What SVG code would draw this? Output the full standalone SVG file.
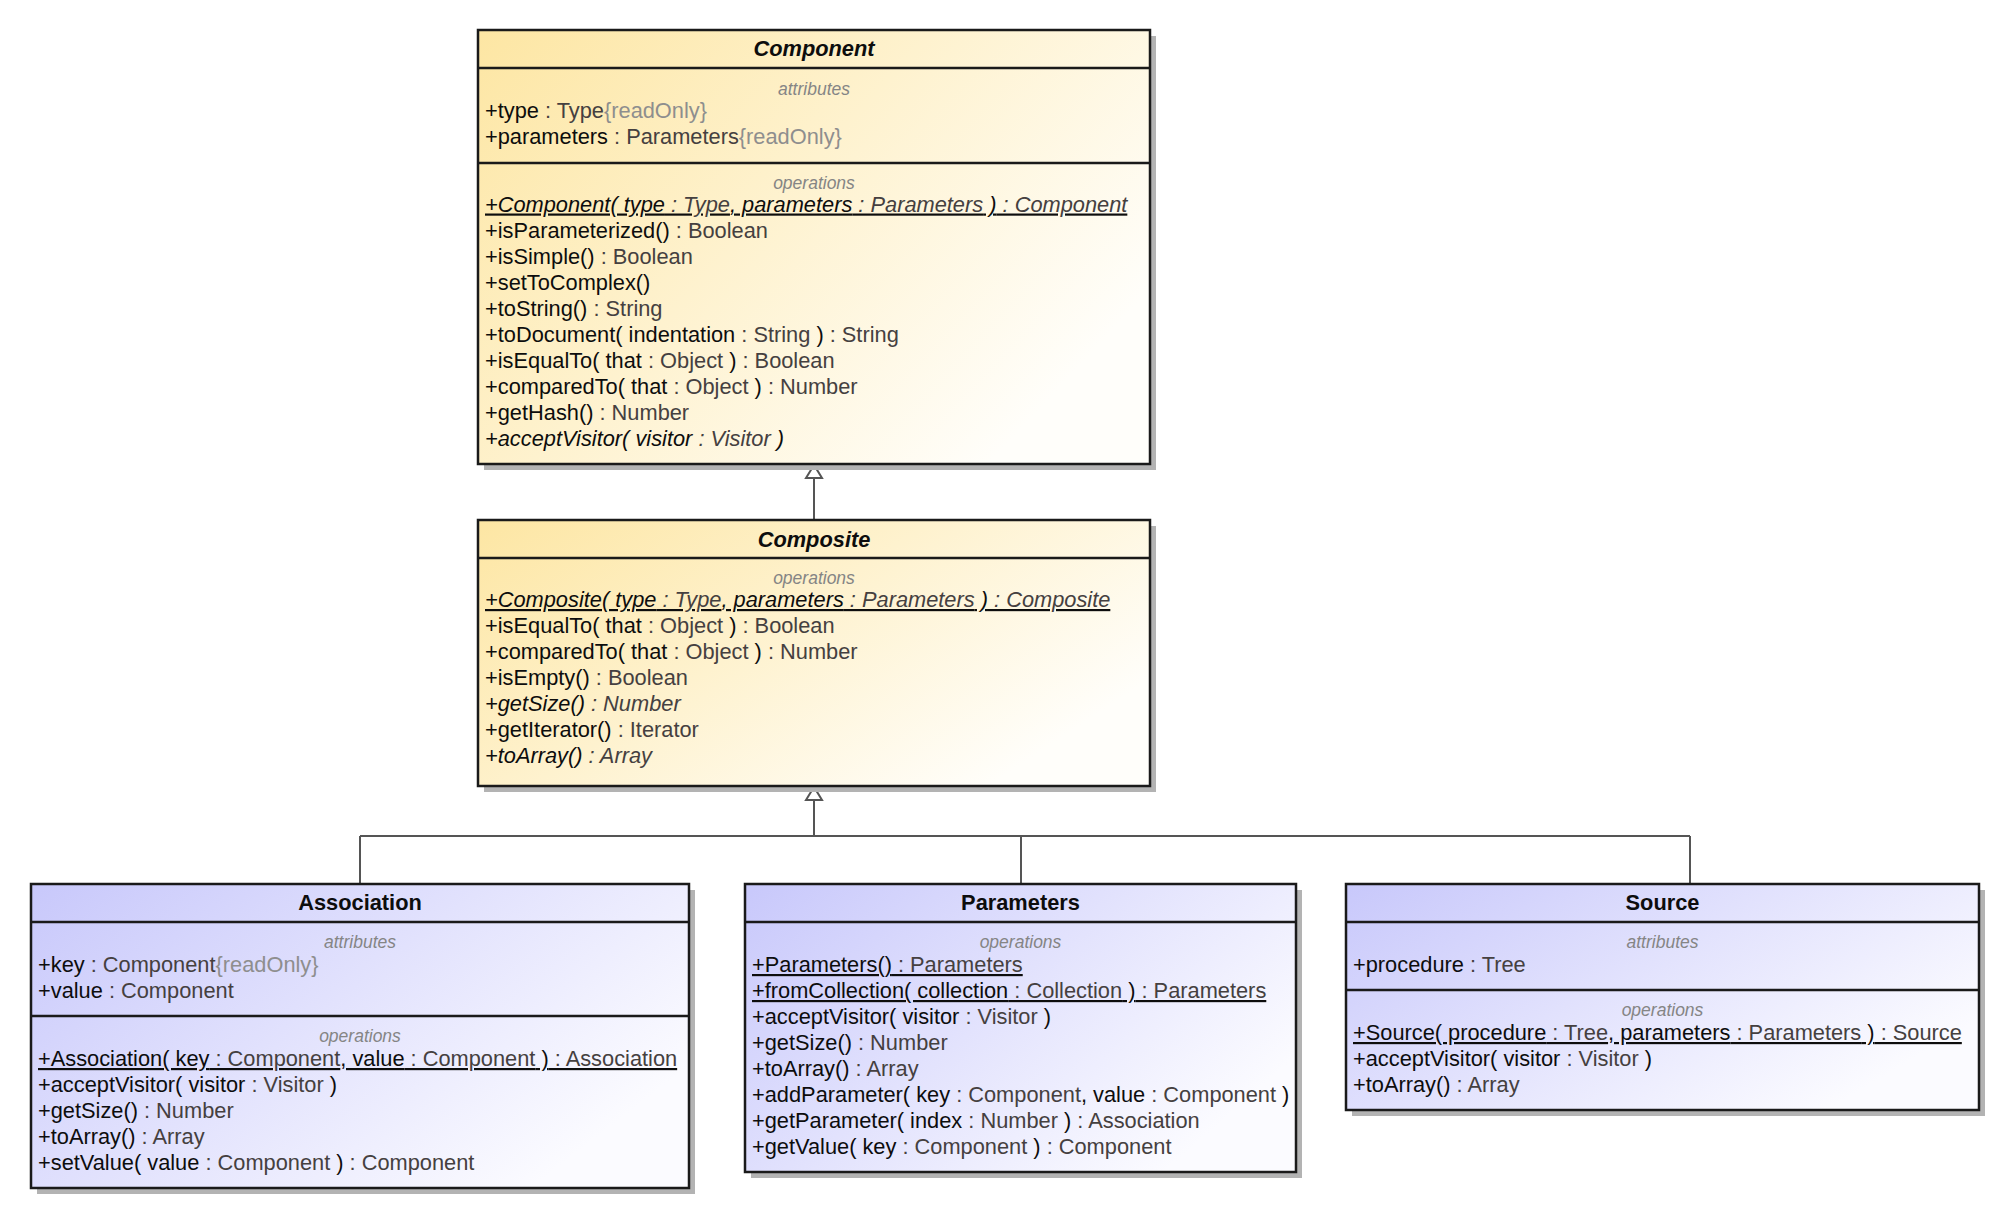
<svg xmlns="http://www.w3.org/2000/svg" width="2008" height="1218" viewBox="0 0 2008 1218">
<defs>
<linearGradient id="gy" x1="0" y1="0" x2="1" y2="0.6">
<stop offset="0" stop-color="#fde6a3"/>
<stop offset="1" stop-color="#fffefa"/>
</linearGradient>
<linearGradient id="gb" x1="0" y1="0" x2="1" y2="0.6">
<stop offset="0" stop-color="#c8c8fb"/>
<stop offset="1" stop-color="#fbfbff"/>
</linearGradient>
<style>
.sh{fill:#b3b3b3}
.by{fill:url(#gy);stroke:#1a1a1a;stroke-width:2.5}
.bb{fill:url(#gb);stroke:#1a1a1a;stroke-width:2.5}
.dv{stroke:#1a1a1a;stroke-width:2.5}
text{font-family:"Liberation Sans",Arial,Helvetica,sans-serif;font-size:21.8px;fill:#0d0d0d}
.ti{font-weight:bold;text-anchor:middle}
.it{font-style:italic}
.lb{font-size:17.5px;font-style:italic;fill:#858585;text-anchor:middle}
.ty{fill:#454040}
.ro{fill:#8e8e8e}
.u{text-decoration:underline}
.cn{stroke:#555;stroke-width:2;fill:none}
.ah{fill:#fff;stroke:#555;stroke-width:2}
</style>
</defs>

<g id="connectors">
<path class="cn" d="M814 478V520"/>
<polygon class="ah" points="814,465 806,478 822,478"/>
<path class="cn" d="M814 800V836M360 836H1690M360 836V884M1021 836V884M1690 836V884"/>
<polygon class="ah" points="814,787 806,800 822,800"/>
</g>

<g id="Component">
<rect class="sh" x="484" y="36" width="672" height="434"/>
<rect class="by" x="478" y="30" width="672" height="434"/>
<line class="dv" x1="478" y1="68" x2="1150" y2="68"/>
<line class="dv" x1="478" y1="163" x2="1150" y2="163"/>
<text class="ti it" x="814" y="55.5">Component</text>
<text class="lb" x="814" y="94.5">attributes</text>
<text x="485" y="118">+type<tspan class="ty"> : Type</tspan><tspan class="ro">{readOnly}</tspan></text>
<text x="485" y="144">+parameters<tspan class="ty"> : Parameters</tspan><tspan class="ro">{readOnly}</tspan></text>
<text class="lb" x="814" y="188.5">operations</text>
<text class="it u" x="485" y="211.5">+Component( type<tspan class="ty"> : Type</tspan>, parameters<tspan class="ty"> : Parameters</tspan> )<tspan class="ty"> : Component</tspan></text>
<text x="485" y="237.5">+isParameterized()<tspan class="ty"> : Boolean</tspan></text>
<text x="485" y="263.5">+isSimple()<tspan class="ty"> : Boolean</tspan></text>
<text x="485" y="289.5">+setToComplex()</text>
<text x="485" y="315.5">+toString()<tspan class="ty"> : String</tspan></text>
<text x="485" y="341.5">+toDocument( indentation<tspan class="ty"> : String</tspan> )<tspan class="ty"> : String</tspan></text>
<text x="485" y="367.5">+isEqualTo( that<tspan class="ty"> : Object</tspan> )<tspan class="ty"> : Boolean</tspan></text>
<text x="485" y="393.5">+comparedTo( that<tspan class="ty"> : Object</tspan> )<tspan class="ty"> : Number</tspan></text>
<text x="485" y="419.5">+getHash()<tspan class="ty"> : Number</tspan></text>
<text class="it" x="485" y="445.5">+acceptVisitor( visitor<tspan class="ty"> : Visitor</tspan> )</text>
</g>

<g id="Composite">
<rect class="sh" x="484" y="526" width="672" height="266"/>
<rect class="by" x="478" y="520" width="672" height="266"/>
<line class="dv" x1="478" y1="558" x2="1150" y2="558"/>
<text class="ti it" x="814" y="547">Composite</text>
<text class="lb" x="814" y="584">operations</text>
<text class="it u" x="485" y="607">+Composite( type<tspan class="ty"> : Type</tspan>, parameters<tspan class="ty"> : Parameters</tspan> )<tspan class="ty"> : Composite</tspan></text>
<text x="485" y="633">+isEqualTo( that<tspan class="ty"> : Object</tspan> )<tspan class="ty"> : Boolean</tspan></text>
<text x="485" y="659">+comparedTo( that<tspan class="ty"> : Object</tspan> )<tspan class="ty"> : Number</tspan></text>
<text x="485" y="685">+isEmpty()<tspan class="ty"> : Boolean</tspan></text>
<text class="it" x="485" y="711">+getSize()<tspan class="ty"> : Number</tspan></text>
<text x="485" y="737">+getIterator()<tspan class="ty"> : Iterator</tspan></text>
<text class="it" x="485" y="763">+toArray()<tspan class="ty"> : Array</tspan></text>
</g>

<g id="Association">
<rect class="sh" x="37" y="890" width="658" height="304"/>
<rect class="bb" x="31" y="884" width="658" height="304"/>
<line class="dv" x1="31" y1="922" x2="689" y2="922"/>
<line class="dv" x1="31" y1="1016" x2="689" y2="1016"/>
<text class="ti" x="360" y="910">Association</text>
<text class="lb" x="360" y="948">attributes</text>
<text x="38" y="972">+key<tspan class="ty"> : Component</tspan><tspan class="ro">{readOnly}</tspan></text>
<text x="38" y="998">+value<tspan class="ty"> : Component</tspan></text>
<text class="lb" x="360" y="1042">operations</text>
<text class="u" x="38" y="1066">+Association( key<tspan class="ty"> : Component</tspan>, value<tspan class="ty"> : Component</tspan> )<tspan class="ty"> : Association</tspan></text>
<text x="38" y="1092">+acceptVisitor( visitor<tspan class="ty"> : Visitor</tspan> )</text>
<text x="38" y="1118">+getSize()<tspan class="ty"> : Number</tspan></text>
<text x="38" y="1144">+toArray()<tspan class="ty"> : Array</tspan></text>
<text x="38" y="1170">+setValue( value<tspan class="ty"> : Component</tspan> )<tspan class="ty"> : Component</tspan></text>
</g>

<g id="Parameters">
<rect class="sh" x="751" y="890" width="551" height="288"/>
<rect class="bb" x="745" y="884" width="551" height="288"/>
<line class="dv" x1="745" y1="922" x2="1296" y2="922"/>
<text class="ti" x="1020.5" y="910">Parameters</text>
<text class="lb" x="1020.5" y="948">operations</text>
<text class="u" x="752" y="972">+Parameters()<tspan class="ty"> : Parameters</tspan></text>
<text class="u" x="752" y="998">+fromCollection( collection<tspan class="ty"> : Collection</tspan> )<tspan class="ty"> : Parameters</tspan></text>
<text x="752" y="1024">+acceptVisitor( visitor<tspan class="ty"> : Visitor</tspan> )</text>
<text x="752" y="1050">+getSize()<tspan class="ty"> : Number</tspan></text>
<text x="752" y="1076">+toArray()<tspan class="ty"> : Array</tspan></text>
<text x="752" y="1102">+addParameter( key<tspan class="ty"> : Component</tspan>, value<tspan class="ty"> : Component</tspan> )</text>
<text x="752" y="1128">+getParameter( index<tspan class="ty"> : Number</tspan> )<tspan class="ty"> : Association</tspan></text>
<text x="752" y="1154">+getValue( key<tspan class="ty"> : Component</tspan> )<tspan class="ty"> : Component</tspan></text>
</g>

<g id="Source">
<rect class="sh" x="1352" y="890" width="633" height="226"/>
<rect class="bb" x="1346" y="884" width="633" height="226"/>
<line class="dv" x1="1346" y1="922" x2="1979" y2="922"/>
<line class="dv" x1="1346" y1="990" x2="1979" y2="990"/>
<text class="ti" x="1662.5" y="910">Source</text>
<text class="lb" x="1662.5" y="948">attributes</text>
<text x="1353" y="972">+procedure<tspan class="ty"> : Tree</tspan></text>
<text class="lb" x="1662.5" y="1016">operations</text>
<text class="u" x="1353" y="1040">+Source( procedure<tspan class="ty"> : Tree</tspan>, parameters<tspan class="ty"> : Parameters</tspan> )<tspan class="ty"> : Source</tspan></text>
<text x="1353" y="1066">+acceptVisitor( visitor<tspan class="ty"> : Visitor</tspan> )</text>
<text x="1353" y="1092">+toArray()<tspan class="ty"> : Array</tspan></text>
</g>
</svg>
